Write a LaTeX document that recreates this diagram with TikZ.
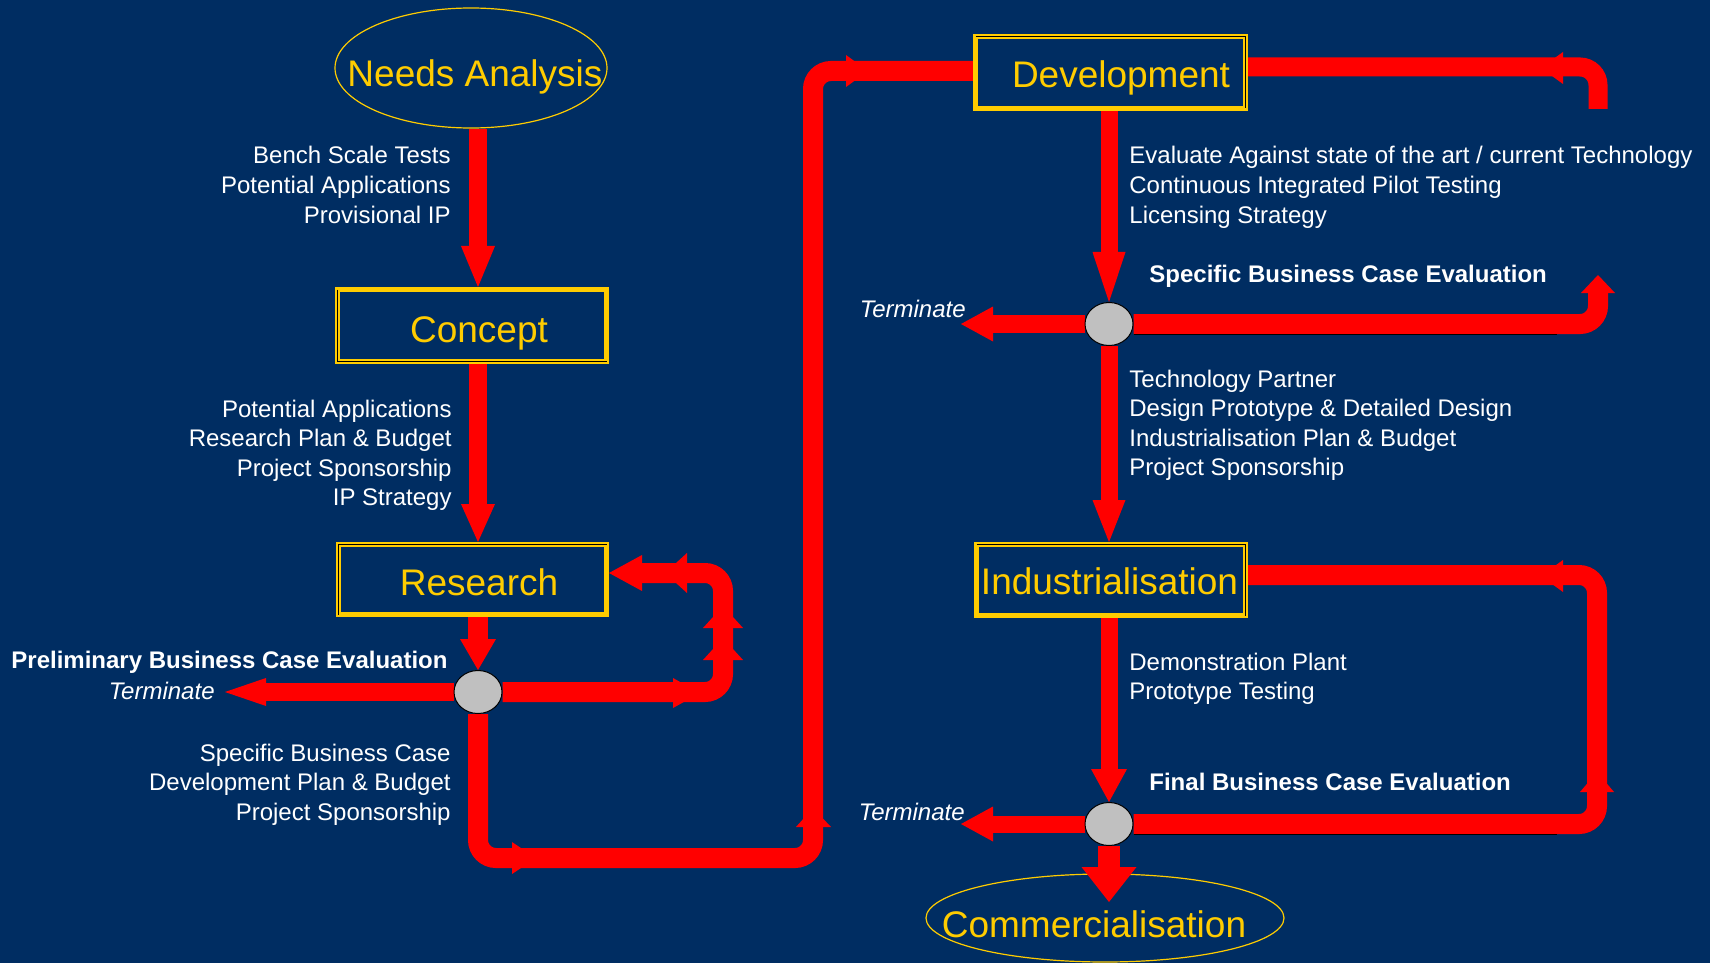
\documentclass[tikz,border=0pt]{standalone}
\usepackage{fontspec}
\setmainfont{Liberation Sans}
\usetikzlibrary{arrows.meta,shapes.geometric,calc}
\definecolor{navy}{RGB}{0,45,98}
\definecolor{gold}{RGB}{255,204,0}
\definecolor{arrowred}{RGB}{255,0,0}
\definecolor{knob}{RGB}{192,192,192}
\pgfdeclarelayer{bg}
\pgfdeclarelayer{conn}
\pgfsetlayers{bg,conn,main}
\begin{document}
\begin{tikzpicture}[x=0.5pt,y=-0.5pt,
  bigtxt/.style={text=gold,font=\fontsize{18.5}{22}\selectfont,inner sep=0pt},
  smalltxt/.style={text=white,font=\fontsize{12}{15}\selectfont,inner sep=0pt},
  boldtxt/.style={text=white,font=\fontsize{12}{15}\selectfont\bfseries,inner sep=0pt},
  termtxt/.style={text=white,font=\fontsize{12}{15}\selectfont\itshape,inner sep=0pt},
  stagebox/.style={draw=gold,line width=2.5pt,rectangle,inner sep=0pt},
  ovalnode/.style={draw=gold,line width=0.6pt,ellipse,inner sep=0pt},
  knobnode/.style={ellipse,fill=knob,draw=black,line width=0.5pt,minimum width=24pt,minimum height=21.5pt,inner sep=0pt},
  redshaft/.style={draw=arrowred,line cap=butt},
  redhead/.style 2 args={-{Triangle[width=#1,length=#2,line width=0pt]}},
  barbfill/.style={fill=arrowred},
  innerline/.style={draw=black,line width=0.75pt},
  shadowline/.style={draw=black,line width=0.6pt}]
\useasboundingbox (0,0) rectangle (1710,963);

\begin{pgfonlayer}{bg}
  \fill[navy] (0,0) rectangle (1710,963);
  \node[ovalnode,minimum width=136pt,minimum height=60pt] (na) at (471,68) {};
  \node[ovalnode,minimum width=179pt,minimum height=44pt] (comm) at (1105,918) {};
\end{pgfonlayer}

% stage boxes
\node[stagebox,minimum width=134.5pt,minimum height=36pt] (concept) at (472,325.5) {};
\node[stagebox,minimum width=134pt,minimum height=35pt] (research) at (472.5,579.5) {};
\node[stagebox,minimum width=135pt,minimum height=36pt] (dev) at (1110.5,72.5) {};
\node[stagebox,minimum width=134.5pt,minimum height=35.5pt] (ind) at (1111,580) {};

% inner black lines
\draw[innerline] ([xshift=1.25pt,yshift=-1.25pt]concept.north west) -- ([xshift=1.25pt,yshift=1.25pt]concept.south west) -- ([xshift=-1.25pt,yshift=1.25pt]concept.south east);
\draw[innerline] ([xshift=1.25pt,yshift=1.25pt]research.south west) -- ([xshift=1.25pt,yshift=-1.25pt]research.north west) -- ([xshift=-1.25pt,yshift=-1.25pt]research.north east);
\draw[innerline] ([xshift=1.25pt,yshift=-1.25pt]dev.north west) -- ([xshift=-1.25pt,yshift=-1.25pt]dev.north east) -- ([xshift=-1.25pt,yshift=1.25pt]dev.south east);
\draw[innerline] ([xshift=1.25pt,yshift=-1.25pt]ind.north west) -- ([xshift=-1.25pt,yshift=-1.25pt]ind.north east) -- ([xshift=-1.25pt,yshift=1.25pt]ind.south east);

% big labels
\node[bigtxt,anchor=base] (naT) at (475,87) {Needs Analysis};
\node[bigtxt,anchor=base] (conceptT) at (479,342) {Concept};
\node[bigtxt,anchor=base] (researchT) at (479,595) {Research};
\node[bigtxt,anchor=base] (devT) at (1121,88) {Development};
\node[bigtxt,anchor=base] (indT) at (1109.5,594) {Industrialisation};
\node[bigtxt,anchor=base] (commT) at (1094,937) {Commercialisation};

% decision points
\node[knobnode] (R) at (478,692) {};
\node[knobnode] (D) at (1109,324) {};
\node[knobnode] (F) at (1109,824) {};

% coordinates
\coordinate (tR) at (225,692);
\coordinate (rc1) at (723,692);
\coordinate (rc2) at (723,573);
\coordinate (bc1) at (478,858);
\coordinate (bc2) at (813,858);
\coordinate (bc3) at (813,71);
\coordinate (tD) at (961,324);
\coordinate (dc1) at (1598,324);
\coordinate (dc2) at (1598,275);
\coordinate (sc1) at (1598,67);
\coordinate (sc2) at (1598,109);
\coordinate (tF) at (961,824);
\coordinate (fc1) at (1597,824);
\coordinate (fc2) at (1597,575);
\coordinate (cm) at (1109,902);

\begin{pgfonlayer}{conn}
  \draw[redshaft,line width=9pt,redhead={17pt}{20.5pt}] ([xshift=3.5pt]na.south) -- ([xshift=3pt]concept.north);
  \draw[redshaft,line width=9pt,redhead={17pt}{19pt}] ([xshift=3pt]concept.south) -- ([xshift=2.75pt]research.north);
  \draw[redshaft,line width=10pt,redhead={18pt}{15.5pt}] ([xshift=2.75pt]research.south) -- (R.north);
  \draw[redshaft,line width=9pt,redhead={14pt}{20.5pt}] (R.west) -- (tR);
  \draw[redshaft,line width=10pt,rounded corners=9pt,redhead={18pt}{16.5pt}] (R.east) -- (rc1) -- (rc2) -- (rc2 -| research.east);
  \draw[redshaft,line width=10pt,rounded corners=9pt] (R.south) -- (bc1) -- (bc2) -- (bc3) -- (bc3 -| dev.west);
  \draw[redshaft,line width=8.5pt,redhead={16.5pt}{25pt}] ([xshift=-0.75pt]dev.south) -- (D.north);
  \draw[redshaft,line width=9pt,redhead={17.5pt}{16pt}] (D.west) -- (tD);
  \draw[redshaft,line width=10pt,rounded corners=9pt,redhead={17pt}{9pt}] (D.east) -- (dc1) -- (dc2);
  \draw[redshaft,line width=9.5pt,rounded corners=9pt] ([yshift=2.75pt]dev.east) -- (sc1) -- (sc2);
  \draw[redshaft,line width=8.5pt,redhead={16.5pt}{21pt}] (D.south) -- ([xshift=-1pt]ind.north);
  \draw[redshaft,line width=8.5pt,redhead={18pt}{16.5pt}] ([xshift=-1pt]ind.south) -- (F.north);
  \draw[redshaft,line width=8.5pt,redhead={17.5pt}{16pt}] (F.west) -- (tF);
  \draw[redshaft,line width=10pt,rounded corners=9pt] (F.east) -- (fc1) -- (fc2) -- (fc2 -| ind.east);
  \draw[redshaft,line width=11pt,redhead={27.5pt}{17.5pt}] (F.south) -- (cm);
  % barbs along the connectors
  \fill[barbfill] (673,678) -- (700,693) -- (673,708) -- cycle;
  \fill[barbfill] (703,660) -- (723,638) -- (743,660) -- cycle;
  \fill[barbfill] (703,628) -- (723,606) -- (743,628) -- cycle;
  \fill[barbfill] (687,553) -- (665,573) -- (687,593) -- cycle;
  \fill[barbfill] (512,842) -- (536,858) -- (512,874) -- cycle;
  \fill[barbfill] (796,827) -- (813,808) -- (831,827) -- cycle;
  \fill[barbfill] (846,55) -- (868,71) -- (846,87) -- cycle;
  \fill[barbfill] (1563,52) -- (1541,68) -- (1563,84) -- cycle;
  \fill[barbfill] (1563,560) -- (1541,576) -- (1563,592) -- cycle;
  \fill[barbfill] (1580,792) -- (1597,772) -- (1614,792) -- cycle;
\end{pgfonlayer}

% shadow lines under right-hand shafts
\draw[shadowline] ([yshift=-5.25pt]D.east) -- ++(423,0);
\draw[shadowline] ([yshift=-5.25pt]F.east) -- ++(423,0);

% text blocks
\foreach \s [count=\i] in {Bench Scale Tests,Potential Applications,Provisional IP}
  \node[smalltxt,anchor=base east] (la-\i) at (451,{134.5+29.5*\i}) {\s};
\foreach \s [count=\i] in {Potential Applications,Research Plan \& Budget,Project Sponsorship,IP Strategy}
  \node[smalltxt,anchor=base east] (lb-\i) at (452,{387.5+29.5*\i}) {\s};
\foreach \s [count=\i] in {Specific Business Case,Development Plan \& Budget,Project Sponsorship}
  \node[smalltxt,anchor=base east] (lc-\i) at (451,{731.5+29.5*\i}) {\s};
\foreach \s [count=\i] in {Evaluate Against state of the art / current Technology,Continuous Integrated Pilot Testing,Licensing Strategy}
  \node[smalltxt,anchor=base west] (ra-\i) at (1129,{134.5+29.5*\i}) {\s};
\foreach \s [count=\i] in {Technology Partner,Design Prototype \& Detailed Design,Industrialisation Plan \& Budget,Project Sponsorship}
  \node[smalltxt,anchor=base west] (rb-\i) at (1129,{357.5+29.5*\i}) {\s};
\foreach \s [count=\i] in {Demonstration Plant,Prototype Testing}
  \node[smalltxt,anchor=base west] (rc-\i) at (1129,{640.5+29.5*\i}) {\s};

\node[boldtxt,anchor=base east] (prelim) at (448,668) {Preliminary Business Case Evaluation};
\node[termtxt,anchor=base east] (termR) at (215,699) {Terminate};
\node[boldtxt,anchor=base west] (specific) at (1149,283) {Specific Business Case Evaluation};
\node[termtxt,anchor=base east] (termD) at (966,317) {Terminate};
\node[boldtxt,anchor=base west] (final) at (1149,790) {Final Business Case Evaluation};
\node[termtxt,anchor=base east] (termF) at (965,820) {Terminate};
\end{tikzpicture}
\end{document}
